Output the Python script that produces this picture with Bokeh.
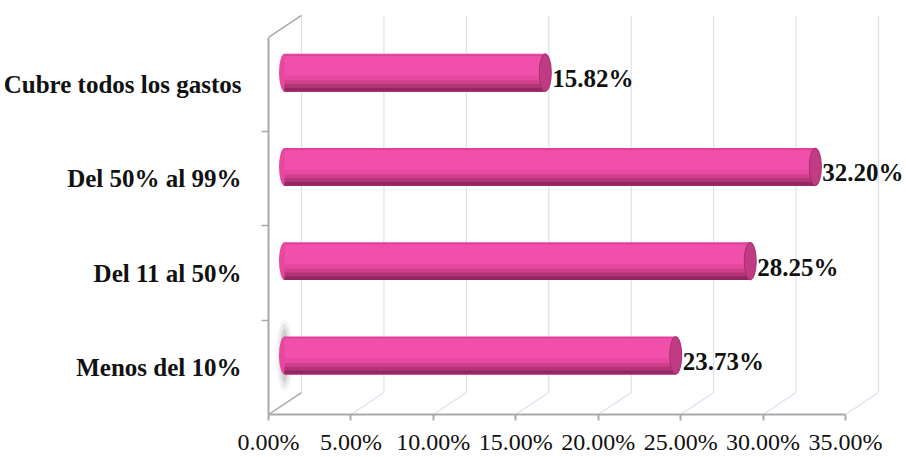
from bokeh.plotting import figure
from bokeh.models import Range1d, FixedTicker
from bokeh.embed import file_html
from bokeh.resources import INLINE
from bokeh.core.properties import value

# ---- data ----
categories = ["Menos del 10%", "Del 11 al 50%", "Del 50% al 99%", "Cubre todos los gastos"]
values = [23.73, 28.25, 32.20, 15.82]
value_labels = ["%.2f%%" % v for v in values]
x_ticks = [0, 5, 10, 15, 20, 25, 30, 35]
x_tick_labels = ["0.00%", "5.00%", "10.00%", "15.00%", "20.00%", "25.00%", "30.00%", "35.00%"]

# ---- layout ----
W, H = 906, 457
L, R, T, B = 268, 0, 12, 42
PX_X = 16.486   # pixels per percent
PX_Y = 94.5     # pixels per category
fw = W - L - R
fh = H - T - B
x_end = fw / PX_X
y_end = fh / PX_Y
n = len(categories)
ys = [i + 0.5 for i in range(n)]
bounds_y = [i for i in range(1, n)]

# depth offsets (3D look)
BACK_DX, BACK_DY = 33 / PX_X, 22 / PX_Y
BAR_DX, BAR_DY = 16 / PX_X, 12 / PX_Y
BAR_H = 0.40

p = figure(width=W, height=H, output_backend="svg", toolbar_location=None,
           x_range=Range1d(0, x_end), y_range=Range1d(0, y_end),
           min_border_left=L, min_border_right=R, min_border_top=T, min_border_bottom=B)
p.extra_x_ranges = {"bx": Range1d(-BAR_DX, x_end - BAR_DX)}
p.extra_y_ranges = {"by": Range1d(-BAR_DY, y_end - BAR_DY)}
p.grid.visible = False
p.outline_line_color = None
p.background_fill_color = "white"
p.border_fill_color = "white"

grid_col = "#d9e2ef"
wall_col = "#a9a9a9"

# back wall gridlines
p.segment(x0=[t + BACK_DX for t in x_ticks], y0=BACK_DY,
          x1=[t + BACK_DX for t in x_ticks], y1=n + BACK_DY,
          line_color=grid_col, line_width=1.2)
# floor diagonals
p.segment(x0=x_ticks[1:], y0=0, x1=[t + BACK_DX for t in x_ticks[1:]], y1=BACK_DY,
          line_color=grid_col, line_width=1.2)
p.segment(x0=[0], y0=[0], x1=[BACK_DX], y1=[BACK_DY], line_color=wall_col, line_width=1.5)
# left wall top diagonal
p.segment(x0=[0], y0=[n], x1=[BACK_DX], y1=[n + BACK_DY], line_color=wall_col, line_width=1.5)

# soft shadow beside the first bar
for w_, h_, a_ in [(18, 72, 0.07), (13, 64, 0.12), (8, 54, 0.2)]:
    p.ellipse(x=[0], y=[ys[0]], width=w_, height=h_, width_units="screen", height_units="screen",
              fill_color="#7a7a7a", fill_alpha=a_, line_color=None,
              x_range_name="bx", y_range_name="by")

# cylinder bars
p.ellipse(x=[0] * n, y=ys, width=11, width_units="screen", height=BAR_H,
          fill_color="#e8469f", line_color=None, x_range_name="bx", y_range_name="by")
bands = [(0.00, "#e0439c"), (0.06, "#f04fab"), (0.58, "#e6499f"),
         (0.70, "#cf3f8c"), (0.80, "#b33477"), (0.90, "#922862")]
for ft, col in bands:
    p.quad(left=[0] * n, right=values,
           top=[y + BAR_H / 2 - ft * BAR_H for y in ys],
           bottom=[y - BAR_H / 2 for y in ys],
           fill_color=col, line_color=None, x_range_name="bx", y_range_name="by")
p.ellipse(x=values, y=ys, width=12, width_units="screen", height=BAR_H,
          fill_color="#c03b84", line_color="#a3306d", line_width=1,
          x_range_name="bx", y_range_name="by")

# value labels
p.text(x=values, y=ys, text=value_labels, x_offset=7, y_offset=6,
       text_font=value("Liberation Serif"), text_font_style="bold", text_font_size="25px",
       text_color="#111111", text_align="left", text_baseline="middle",
       x_range_name="bx", y_range_name="by")

# x axis
xa = p.xaxis[0]
xa.ticker = FixedTicker(ticks=x_ticks)
xa.major_label_overrides = {t: s for t, s in zip(x_ticks, x_tick_labels)}
xa.bounds = (x_ticks[0], x_ticks[-1])
xa.axis_line_color = wall_col
xa.axis_line_width = 2
xa.major_tick_line_color = wall_col
xa.major_tick_line_width = 2
xa.major_tick_out = 6
xa.major_tick_in = 0
xa.minor_tick_line_color = None
xa.major_label_text_font = "Liberation Serif"
xa.major_label_text_font_size = "24px"
xa.major_label_text_color = "#111111"
xa.major_label_standoff = 8

# y axis
ya = p.yaxis[0]
ya.ticker = FixedTicker(ticks=ys, minor_ticks=bounds_y)
ya.major_label_overrides = {y: c for y, c in zip(ys, categories)}
ya.bounds = (0, n)
ya.axis_line_color = wall_col
ya.axis_line_width = 2
ya.major_tick_out = 0
ya.major_tick_in = 0
ya.minor_tick_out = 7
ya.minor_tick_in = 0
ya.minor_tick_line_color = wall_col
ya.minor_tick_line_width = 1.5
ya.major_label_text_font = "Liberation Serif"
ya.major_label_text_font_style = "bold"
ya.major_label_text_font_size = "25px"
ya.major_label_text_color = "#111111"
ya.major_label_standoff = 20

open("out.html", "w").write(file_html(p, INLINE))
